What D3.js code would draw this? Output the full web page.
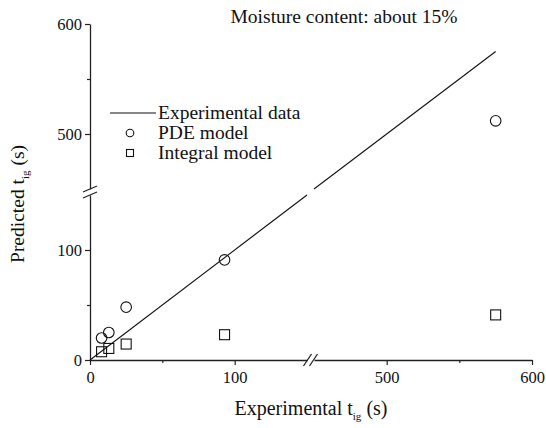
<!DOCTYPE html>
<html>
<head>
<meta charset="utf-8">
<script src="https://cdn.jsdelivr.net/npm/d3@7"></script>
<style>
  body { margin: 0; background: #fff; }
  svg, svg text { font-family: "Liberation Serif", "Times New Roman", serif; }
</style>
</head>
<body>
<svg id="chart" width="546" height="428"></svg>
<script>
// values
var expTimes = [8, 13, 25, 93, 575];
var pdeModel = [20, 25, 48, 91, 512];
var integralModel = [7.5, 10.5, 14.5, 23, 41];
var expLine = [0, 575];
var lowDomain = [0, 150];
var highDomain = [450, 600];
var lowTicks = [0, 100];
var highTicks = [500, 600];
var minorLow = [50];
var minorHigh = [550];
var legendNames = ['Experimental data', 'PDE model', 'Integral model'];

var svg = d3.select('#chart');

// broken axes: two linear pieces each
var xLow = d3.scaleLinear().domain(lowDomain).range([90, 307]);
var xHigh = d3.scaleLinear().domain(highDomain).range([314, 532]);
var yLow = d3.scaleLinear().domain(lowDomain).range([360, 195]);
var yHigh = d3.scaleLinear().domain(highDomain).range([189, 24]);

function X(v) { return v <= 300 ? xLow(v) : xHigh(v); }
function Y(v) { return v <= 300 ? yLow(v) : yHigh(v); }

var ink = '#222';
var bigFont = '19.5px';

function styleAxis(g) {
  g.attr('font-family', null);
  g.selectAll('path').attr('stroke', ink).attr('stroke-width', 1.3);
  g.selectAll('line').attr('stroke', ink).attr('stroke-width', 1.2);
  g.selectAll('text').attr('fill', '#111').style('font-size', '16.5px');
}

// x axis
[[xLow, lowTicks, minorLow], [xHigh, highTicks, minorHigh]].forEach(function(a) {
  svg.append('g')
    .attr('transform', 'translate(0,360)')
    .call(d3.axisBottom(a[0]).tickValues(a[1]).tickSize(5).tickSizeOuter(0).tickPadding(6))
    .call(styleAxis);
  svg.append('g')
    .attr('transform', 'translate(0,360)')
    .call(d3.axisBottom(a[0]).tickValues(a[2]).tickSize(3).tickSizeOuter(0).tickFormat(''))
    .call(styleAxis)
    .select('path').remove();
});

// y axis
[[yLow, lowTicks, minorLow], [yHigh, highTicks, minorHigh]].forEach(function(a) {
  svg.append('g')
    .attr('transform', 'translate(90,0)')
    .call(d3.axisLeft(a[0]).tickValues(a[1]).tickSize(5).tickSizeOuter(0).tickPadding(3))
    .call(styleAxis);
  svg.append('g')
    .attr('transform', 'translate(90,0)')
    .call(d3.axisLeft(a[0]).tickValues(a[2]).tickSize(3).tickSizeOuter(0).tickFormat(''))
    .call(styleAxis)
    .select('path').remove();
});

// break marks
var bx = (xLow.range()[1] + xHigh.range()[0]) / 2;
var by = (yLow.range()[1] + yHigh.range()[0]) / 2;
[-3, 3].forEach(function(o) {
  svg.append('line')
    .attr('x1', bx + o - 4).attr('y1', 366).attr('x2', bx + o + 4).attr('y2', 354)
    .attr('stroke', ink).attr('stroke-width', 1.3);
  svg.append('line')
    .attr('x1', 83).attr('y1', by + o + 3).attr('x2', 97).attr('y2', by + o - 3)
    .attr('stroke', ink).attr('stroke-width', 1.3);
});

// experimental data: y = x, drawn on each side of the break
var pieces = [[expLine[0], lowDomain[1]], [highDomain[0], expLine[1]]];
pieces.forEach(function(p) {
  svg.append('line')
    .attr('x1', X(p[0])).attr('y1', Y(p[0]))
    .attr('x2', X(p[1])).attr('y2', Y(p[1]))
    .attr('stroke', '#111').attr('stroke-width', 1.1);
});

// PDE model circles
svg.append('g').selectAll('circle')
  .data(expTimes)
  .enter()
  .append('circle')
  .attr('cx', d => X(d))
  .attr('cy', (d, i) => Y(pdeModel[i]))
  .attr('r', 5.3)
  .attr('fill', 'none')
  .attr('stroke', '#111')
  .attr('stroke-width', 1.1);

// integral model squares
svg.append('g').selectAll('rect')
  .data(expTimes)
  .enter()
  .append('rect')
  .attr('x', d => X(d) - 5)
  .attr('y', (d, i) => Y(integralModel[i]) - 5)
  .attr('width', 10)
  .attr('height', 10)
  .attr('fill', 'none')
  .attr('stroke', '#111')
  .attr('stroke-width', 1.1);

// legend
var legend = svg.append('g').attr('transform', 'translate(110,113)');
legend.append('line')
  .attr('x1', 0).attr('x2', 46).attr('y1', 0).attr('y2', 0)
  .attr('stroke', '#111').attr('stroke-width', 1.1);
legend.append('circle')
  .attr('cx', 20).attr('cy', 20).attr('r', 3.8)
  .attr('fill', 'none').attr('stroke', '#111').attr('stroke-width', 1.1);
legend.append('rect')
  .attr('x', 16.5).attr('y', 36.5).attr('width', 7).attr('height', 7)
  .attr('fill', 'none').attr('stroke', '#111').attr('stroke-width', 1.1);
legend.selectAll('text')
  .data(legendNames)
  .enter()
  .append('text')
  .attr('x', 48)
  .attr('y', (d, i) => i * 20 + 6)
  .attr('fill', '#111')
  .style('font-size', bigFont)
  .text(d => d);

// title
svg.append('text')
  .attr('x', 344).attr('y', 23)
  .attr('text-anchor', 'middle')
  .attr('fill', '#111')
  .style('font-size', bigFont)
  .text('Moisture content: about 15%');

// axis titles with subscript
var xt = svg.append('text')
  .attr('x', 311).attr('y', 415)
  .attr('text-anchor', 'middle')
  .attr('fill', '#111')
  .style('font-size', '20px');
xt.append('tspan').text('Experimental t');
xt.append('tspan').attr('dy', 5).style('font-size', '11px').text('ig');
xt.append('tspan').attr('dy', -5).text(' (s)');

var yt = svg.append('text')
  .attr('transform', 'translate(24,204) rotate(-90)')
  .attr('text-anchor', 'middle')
  .attr('fill', '#111')
  .style('font-size', bigFont);
yt.append('tspan').text('Predicted t');
yt.append('tspan').attr('dy', 5).style('font-size', '11px').text('ig');
yt.append('tspan').attr('dy', -5).text(' (s)');
</script>
</body>
</html>
